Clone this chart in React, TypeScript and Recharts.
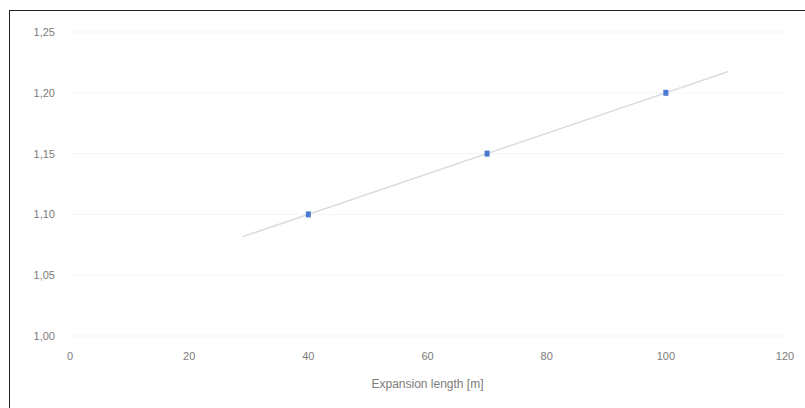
import { ScatterChart, Scatter, XAxis, YAxis, CartesianGrid } from "recharts";

const lengths = [40, 70, 100];
const ratios = [1.1, 1.15, 1.2];
const trendLengths = [29, 110.5];
const trendRatios = [1.0817, 1.2175];
const xTicks = [0, 20, 40, 60, 80, 100, 120];
const yTicks = [1.0, 1.05, 1.1, 1.15, 1.2, 1.25];

const points = lengths.map((x, i) => ({ x, y: ratios[i] }));
const trend = trendLengths.map((x, i) => ({ x, y: trendRatios[i] }));

const tickStyle = { fill: "#7c7c7c", fontSize: 11, fontFamily: "Liberation Sans, sans-serif" };

const Marker = (props: any) => {
	const { cx, cy } = props;
	return <rect x={cx - 2.5} y={cy - 3} width={5} height={6} fill="#4a7bd0" />;
};

const App = () => {
	return (
		<div style={{ position: "absolute", left: 0, top: 0, width: 805, height: 408, background: "#fff" }}>
			<div
				style={{
					position: "absolute",
					left: 9,
					top: 10,
					width: 805,
					height: 408,
					borderTop: "1.5px solid #222",
					borderLeft: "1.5px solid #222",
				}}
			/>
			<div style={{ position: "absolute", left: 0, top: 0 }}>
				<ScatterChart width={805} height={408} margin={{ top: 32, right: 20, left: 10, bottom: 20 }}>
					<CartesianGrid vertical={false} stroke="#f5f5f5" />
					<XAxis
						type="number"
						dataKey="x"
						domain={[0, 120]}
						ticks={xTicks}
						axisLine={false}
						tickLine={false}
						tick={tickStyle}
						tickMargin={10}
						height={52}
						label={{
							value: "Expansion length [m]",
							position: "insideBottom",
							offset: 0,
							fill: "#7c7c7c",
							fontSize: 12,
							fontFamily: "Liberation Sans, sans-serif",
						}}
					/>
					<YAxis
						type="number"
						dataKey="y"
						domain={[1.0, 1.25]}
						ticks={yTicks}
						axisLine={false}
						tickLine={false}
						tick={tickStyle}
						tickMargin={9}
						width={60}
						tickFormatter={(v: number) => v.toFixed(2).replace(".", ",")}
					/>
					<Scatter
						data={trend}
						line={{ stroke: "#d9dce2", strokeWidth: 1.5 }}
						shape={() => null}
						isAnimationActive={false}
					/>
					<Scatter data={points} shape={<Marker />} isAnimationActive={false} />
				</ScatterChart>
			</div>
		</div>
	);
};

export default App;
